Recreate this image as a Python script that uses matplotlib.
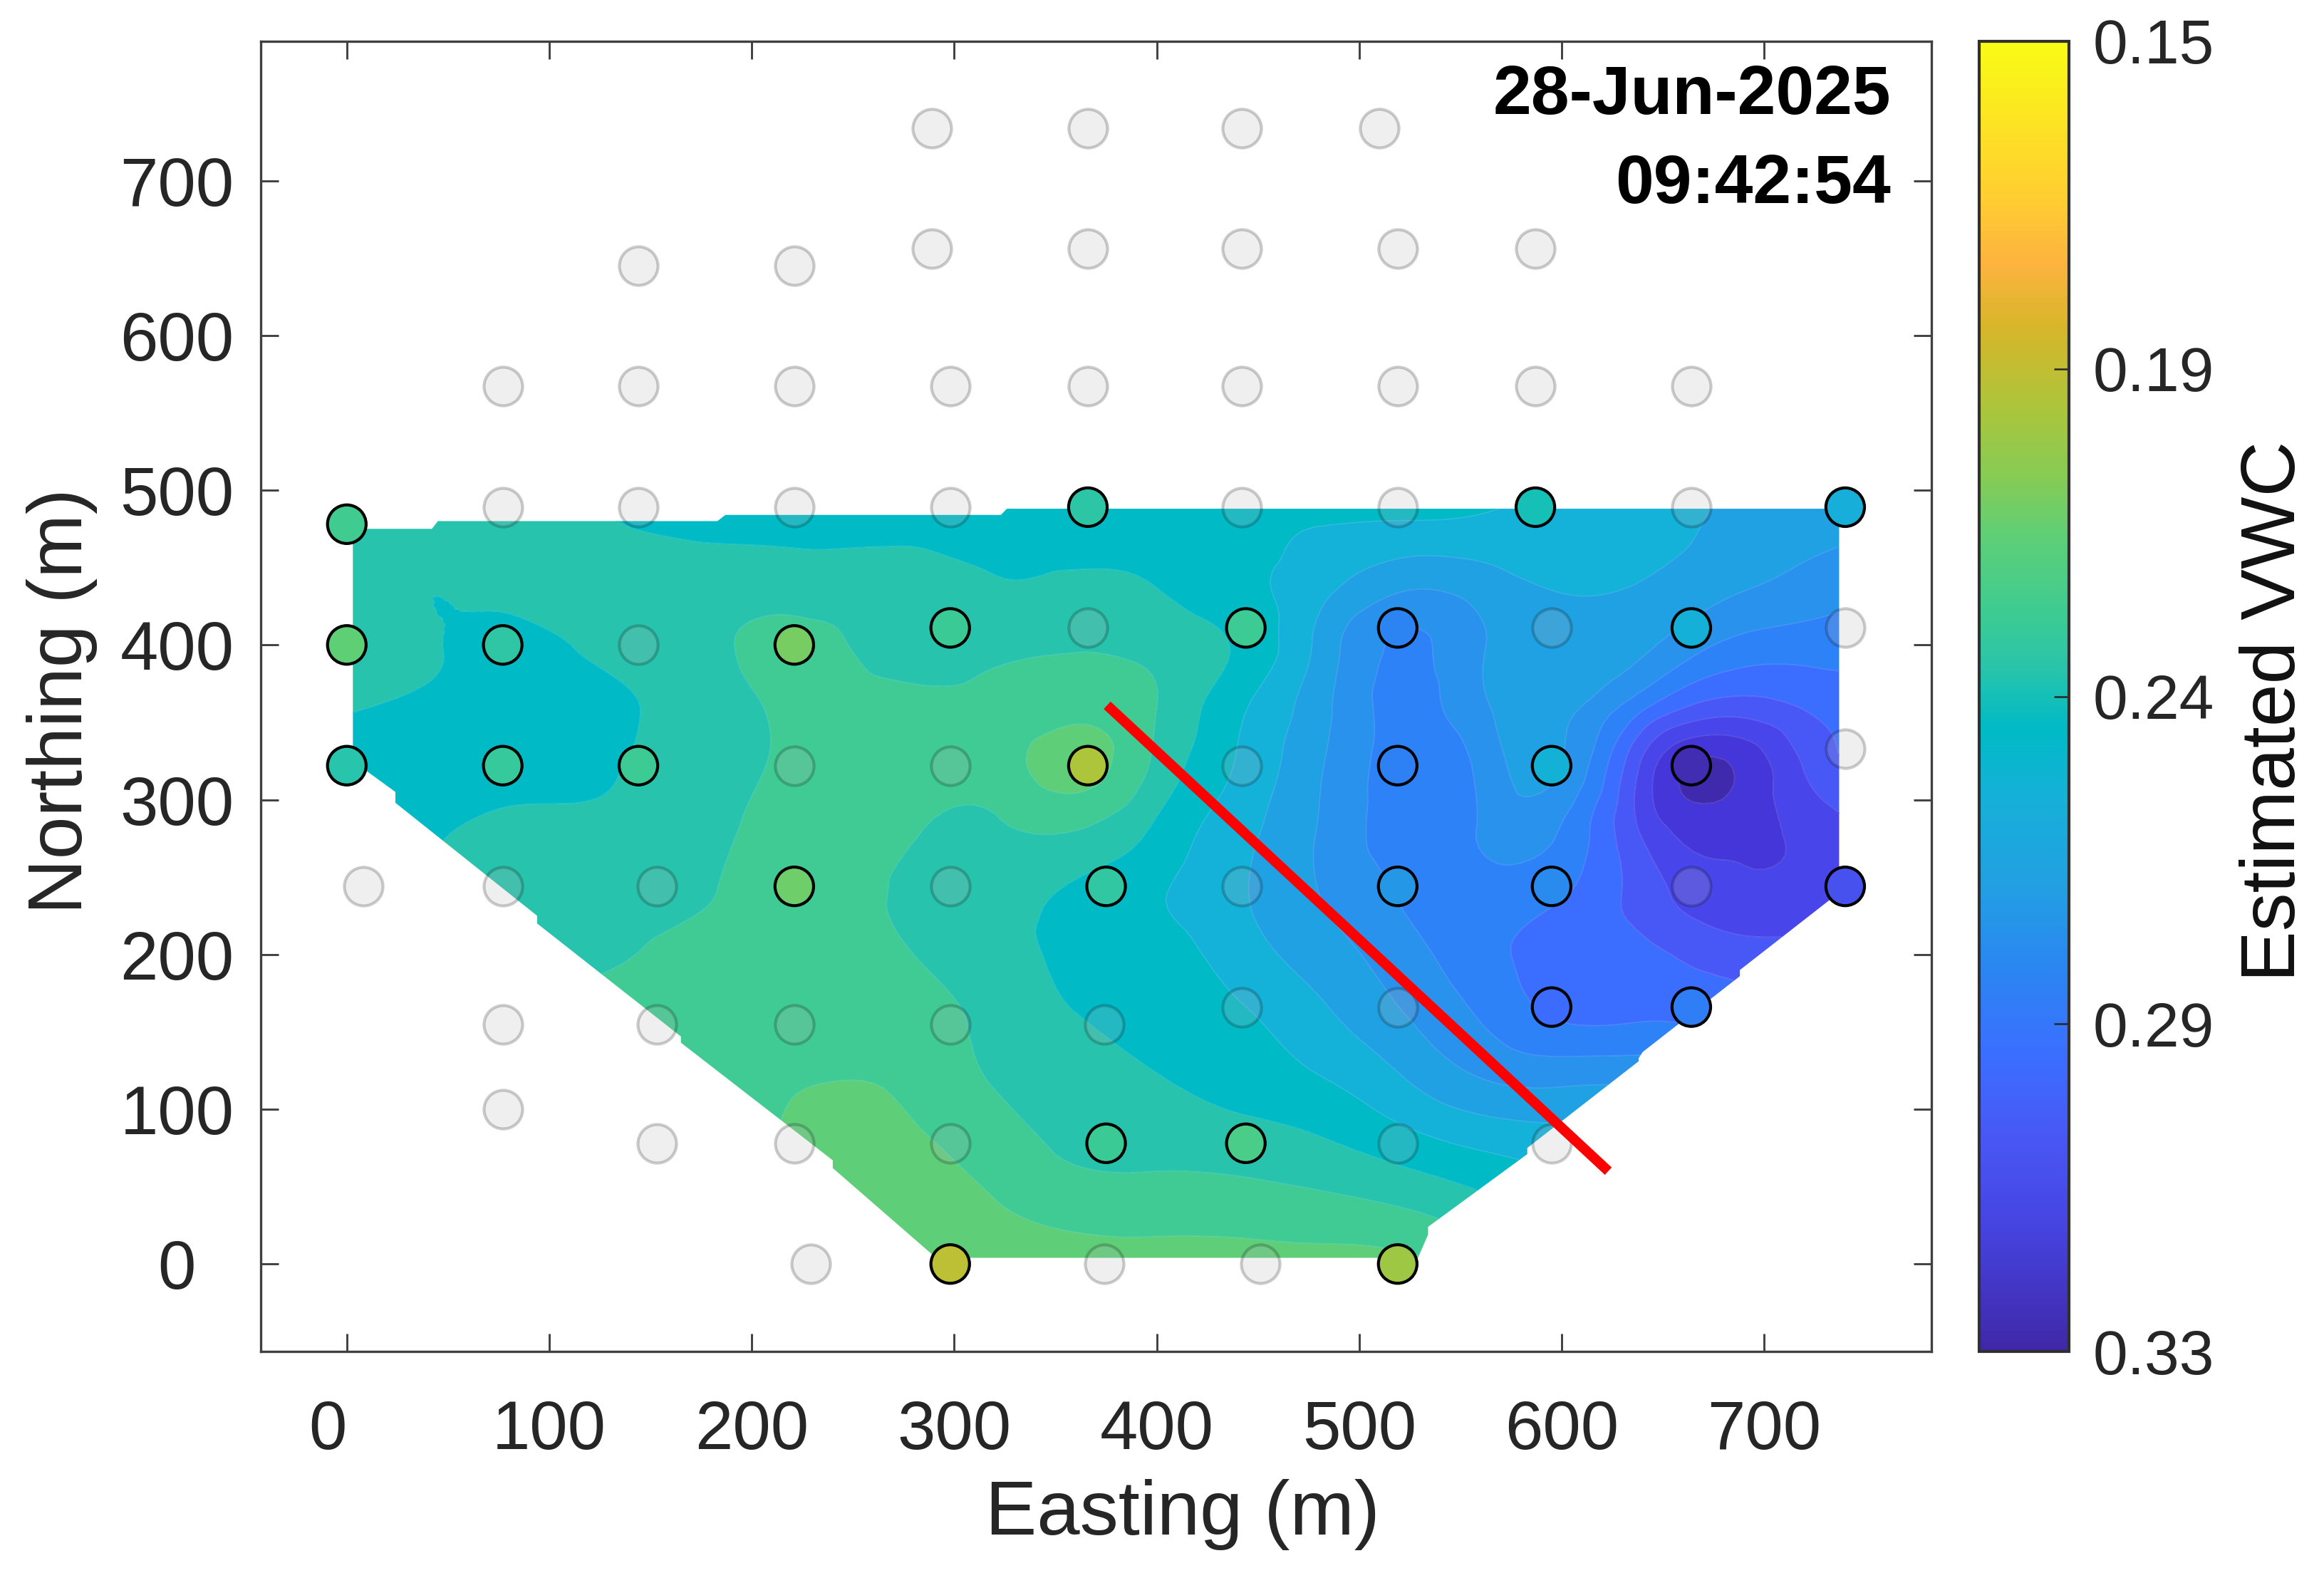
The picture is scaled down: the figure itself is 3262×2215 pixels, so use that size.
import matplotlib
matplotlib.use("Agg")
import matplotlib.pyplot as plt
import matplotlib.tri as mtri
from matplotlib.colors import LinearSegmentedColormap, Normalize
from matplotlib.cm import ScalarMappable
from matplotlib.patches import Polygon
from matplotlib.transforms import ScaledTranslation
import numpy as np

# Sites with a reading: easting, northing, VWC
SITE_E = [0, 0, 0, 77, 77, 144, 221, 221, 298, 366, 366, 375, 444, 519, 519, 519,
          587, 595, 595, 595, 664, 664, 664, 740, 740, 298, 519, 375, 444]
SITE_N = [478, 400, 322, 400, 322, 322, 400, 244, 411, 489, 322, 244, 411, 411, 322, 244,
          489, 322, 244, 166, 411, 322, 166, 489, 244, 0, 0, 78, 78]
SITE_VWC = [0.228, 0.218, 0.236, 0.234, 0.231, 0.229, 0.213, 0.215, 0.230, 0.235, 0.200,
            0.233, 0.229, 0.278, 0.280, 0.270, 0.240, 0.253, 0.275, 0.290, 0.254, 0.327,
            0.281, 0.256, 0.304, 0.196, 0.204, 0.230, 0.225]

# Sites with no reading at this time
OFF_E = [289, 366, 442, 510, 289, 366, 442, 519, 587, 144, 221,
         77, 144, 221, 298, 366, 442, 519, 587, 664,
         77, 144, 221, 298, 442, 519, 664, 366, 595, 740, 144, 740,
         221, 298, 442, 8, 77, 153, 298, 442, 664, 442, 519,
         77, 153, 221, 298, 374, 77, 153, 221, 298, 519, 595, 229, 374, 451]
OFF_N = [734, 734, 734, 734, 656, 656, 656, 656, 656, 645, 645,
         567, 567, 567, 567, 567, 567, 567, 567, 567,
         489, 489, 489, 489, 489, 489, 489, 411, 411, 411, 400, 333,
         322, 322, 322, 244, 244, 244, 244, 244, 244, 166, 166,
         155, 155, 155, 155, 155, 100, 78, 78, 78, 78, 78, 0, 0, 0]

# VWC map (x1000)
GRID_E = [0, 40, 80, 120, 160, 200, 240, 280, 320, 360, 400, 440, 480, 520, 560, 600, 640, 680, 720, 760]
GRID_N = [0, 40, 80, 120, 160, 200, 240, 280, 320, 360, 400, 440, 480, 520]
VWC_MAP = [
    [228, 226, 224, 222, 220, 219, 218, 216, 216, 218, 219, 219, 219.5, 220, 227, 236, 242, 246, 250, 254],
    [228, 226, 225, 224, 224, 222, 218, 218, 222.5, 227, 227.5, 228, 230, 233, 239, 245, 248, 252, 256, 260],
    [229, 228, 226, 225, 225, 224, 219, 221.5, 227.5, 234.5, 236, 237.5, 240.5, 247, 253, 256, 258, 262, 266, 270],
    [234, 231, 228, 226, 225, 224, 223, 225, 232.8, 237, 240.8, 245, 250, 259, 269, 271.5, 271, 275, 280, 285],
    [238, 234, 231, 229, 228, 227, 226.5, 228, 235, 241, 245, 249, 257.5, 268, 279, 288.5, 288.5, 290, 292, 294],
    [240, 236, 234, 233.5, 230.5, 228, 227, 232, 237, 244, 246.5, 255, 264, 274, 284, 291, 294.5, 301, 302.5, 303],
    [246, 240, 236, 235, 234, 229.5, 227, 234.5, 237, 243, 249.5, 258.5, 269, 279, 283, 286.5, 301, 312.5, 312, 304],
    [245, 243, 238, 238, 236, 231, 228, 231.5, 233, 232, 243, 256.5, 269.5, 282, 277.5, 279, 307.5, 319, 313, 300],
    [247, 247, 246, 244, 237, 232.5, 229, 228, 227.5, 219, 234.5, 251.5, 268, 282.5, 276, 269, 308.5, 326, 305.5, 293],
    [240, 243.5, 246, 244.5, 238.5, 232.5, 230, 229.5, 229, 225, 232, 248.5, 265.5, 281, 271, 266, 285.5, 301, 296, 291],
    [234, 240, 244, 240, 236, 231, 231, 236, 235, 233, 235, 242.5, 262, 279.5, 270, 263, 267, 279.5, 283, 284],
    [236, 241, 238, 237, 236, 236, 236, 236, 240.5, 239.5, 241.75, 248, 256, 266.5, 264, 258.5, 260, 266, 272, 278],
    [236, 236, 237, 240, 243, 244, 245, 245.5, 246, 247, 247, 248, 250, 250.6, 251.5, 253, 256, 261, 265, 268],
    [236, 236, 238, 242, 245, 246, 247, 247, 248, 248, 248.5, 249, 247, 247, 248, 250, 254, 259, 264, 268],
]

# Edge of the interpolated area
EDGE_E = [3, 42, 45, 183, 187, 323, 326, 737, 737, 690, 688, 688, 640, 638, 638, 584, 583, 583,
          534, 534, 529, 291, 240, 240, 165, 165, 94, 94, 24, 24, 3]
EDGE_N = [475, 475, 480, 480, 484, 484, 488, 488, 240, 192, 190, 186, 137, 133, 131, 76, 75, 71,
          24, 19, 4, 4, 62, 67, 143, 147, 220, 225, 298, 305, 325]

TRANSECT_E = [375.5, 623]
TRANSECT_N = [361, 60]

CBAR_TICKS = [0.15, 0.195, 0.24, 0.285, 0.33]
CBAR_LABELS = ["0.15", "0.19", "0.24", "0.29", "0.33"]

VMIN, VMAX = 0.15, 0.33

# flipped parula, sampled from the colorbar
cmap = LinearSegmentedColormap.from_list("parula_r", [
    (0.0, "#F9FB15"), (0.115, "#FFCF30"), (0.168, "#FDB33E"), (0.215, "#D9B52A"),
    (0.28, "#ABC53B"), (0.333, "#85CC55"), (0.38, "#5CCF78"), (0.432, "#40CC90"),
    (0.479, "#28C4AB"), (0.525, "#00BAC6"), (0.578, "#15B0D8"), (0.644, "#22A0E2"),
    (0.71, "#2B85F2"), (0.776, "#3B6EFF"), (0.835, "#4858F5"), (0.908, "#4643E0"),
    (1.0, "#3F28A8")], N=256)
band_colors = ["#5FCE78", "#3FCB93", "#28C3AC", "#00BAC6", "#14B1D9", "#20A1E3", "#2892EC",
               "#2E82F8", "#3B6EFF", "#4858F7", "#4845EA", "#4436D8", "#3F2AAE"]
levels = [0.15] + [0.2135 + 0.00925 * k for k in range(1, 13)] + [0.35]

plt.rcParams["font.family"] = ["Liberation Sans", "DejaVu Sans"]

W, H = 3262, 2215
DPI = 300
fig = plt.figure(figsize=(W / DPI, H / DPI), dpi=DPI)

def px_box(left, top, right, bottom):
    return [left / W, 1 - bottom / H, (right - left) / W, (bottom - top) / H]

ax = fig.add_axes(px_box(366, 58, 2711, 1897))
cax = fig.add_axes(px_box(2778, 58, 2904, 1897))

# filled map, smoothed on a refined mesh
gx, gy = np.meshgrid(GRID_E, GRID_N)
triang = mtri.Triangulation(gx.ravel().astype(float), gy.ravel().astype(float))
refiner = mtri.UniformTriRefiner(triang)
tri_fine, z_fine = refiner.refine_field(np.array(VWC_MAP).ravel() / 1000.0, subdiv=3)

area = Polygon(np.column_stack([EDGE_E, EDGE_N]), closed=True, transform=ax.transData,
               facecolor="none", edgecolor="none")
ax.add_patch(area)
cs = ax.tricontourf(tri_fine, z_fine, levels=levels, colors=band_colors, zorder=1)
cs.set_clip_path(area)
cl = ax.tricontour(tri_fine, z_fine, levels=levels[1:-1], colors="white", alpha=0.12,
                   linewidths=0.4, zorder=1.5)
cl.set_clip_path(area)

ax.scatter(OFF_E, OFF_N, s=169, facecolor=(0.7, 0.7, 0.7, 0.2), edgecolor=(0, 0, 0, 0.2),
           linewidth=1.0, zorder=2)
ax.scatter(SITE_E, SITE_N, c=SITE_VWC, s=169, cmap=cmap, norm=Normalize(VMIN, VMAX),
           edgecolor="black", linewidth=1.0, zorder=3)
ax.plot(TRANSECT_E, TRANSECT_N, color="#FF0000", lw=3.4, solid_capstyle="butt", zorder=4)

ax.set_xlim(-42.5, 782.6)
ax.set_ylim(-56.5, 790)
ax.set_xticks(range(0, 701, 100))
ax.set_yticks(range(0, 701, 100))
ax.tick_params(direction="in", length=6, width=0.7, top=True, right=True, color="#404040",
               labelcolor="#262626", labelsize=23)
ax.tick_params(axis="x", pad=16)
ax.tick_params(axis="y", pad=9)
for s in ax.spines.values():
    s.set_linewidth(0.8)
    s.set_color("#404040")

# the 0 labels sit off their ticks in the original
lab_x = ax.get_xticklabels()[0]
lab_x.set_transform(lab_x.get_transform() + ScaledTranslation(-27 / DPI, 0, fig.dpi_scale_trans))
lab_y = ax.get_yticklabels()[0]
lab_y.set_transform(lab_y.get_transform() + ScaledTranslation(-54 / DPI, 0, fig.dpi_scale_trans))

sm = ScalarMappable(norm=Normalize(VMIN, VMAX), cmap=cmap)
cb = fig.colorbar(sm, cax=cax)
cax.invert_yaxis()
cb.set_ticks(CBAR_TICKS)
cb.set_ticklabels(CBAR_LABELS)
cax.tick_params(direction="in", length=5, width=0.6, color="#262626", labelcolor="#262626",
                labelsize=21, pad=8)
cb.outline.set_linewidth(1.0)
cb.outline.set_edgecolor("#303030")

def put(text, x, y, **kw):
    fig.text(x / W, 1 - y / H, text, **kw)

put("28-Jun-2025", 2654, 135, ha="right", va="center", fontsize=23.2, fontweight="bold", color="black")
put("09:42:54", 2654, 260, ha="right", va="center", fontsize=23.2, fontweight="bold", color="black")
put("Easting (m)", 1660, 2126, ha="center", va="center", fontsize=26, color="#262626")
put("Northing (m)", 87, 984, ha="center", va="center", rotation=90, fontsize=25.8, color="#262626")
put("Estimated VWC", 3193, 998, ha="center", va="center", rotation=90, fontsize=25.8, color="#111111")

fig.savefig("out.png", dpi=DPI)
